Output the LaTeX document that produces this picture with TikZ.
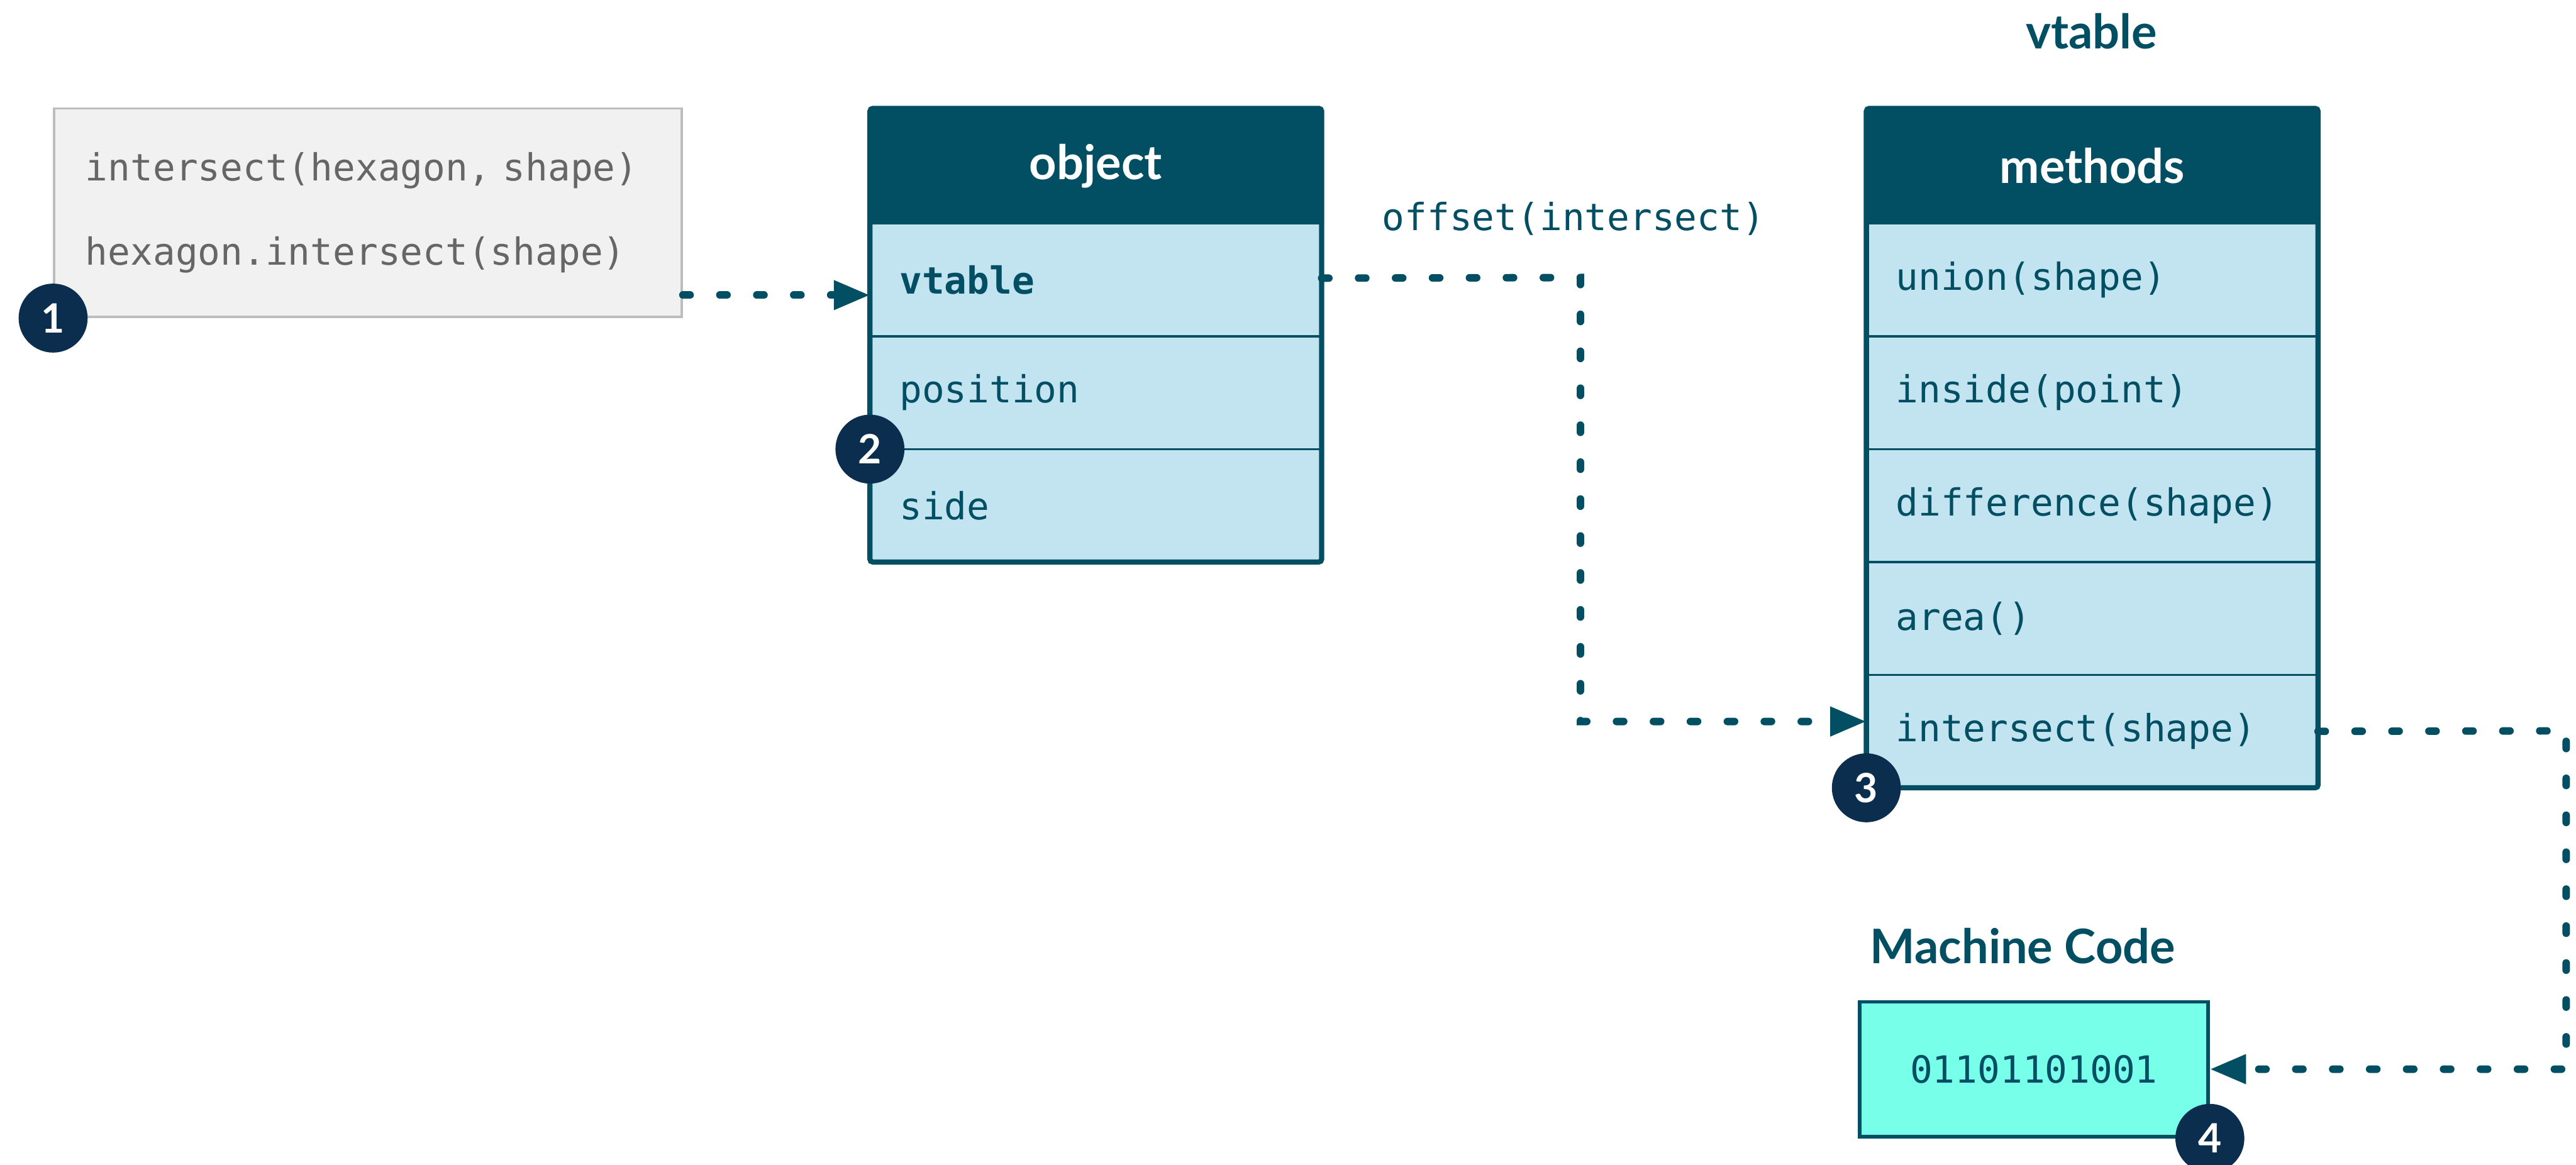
\documentclass[tikz,border=0pt]{standalone}
\usepackage{fontspec}
\setmainfont{Lato}
\newfontfamily\codefont{DejaVu Sans Mono}
\usetikzlibrary{positioning,arrows.meta,calc}
\definecolor{vtteal}{HTML}{024E63}
\definecolor{rowblue}{HTML}{C2E4F0}
\definecolor{badgenavy}{HTML}{0B2E4F}
\definecolor{codegreen}{HTML}{77FFE9}
\definecolor{callgrey}{HTML}{F1F1F1}
\definecolor{callborder}{HTML}{BDBDBD}
\definecolor{calltext}{HTML}{666666}
\tikzset{
  head/.style={fill=vtteal,draw=vtteal,text=white,font=\bfseries\fontsize{16.5}{19}\selectfont,
    minimum width=5.5cm,minimum height=1.4cm,inner sep=0pt,outer sep=0pt},
  slot/.style={fill=rowblue,draw=vtteal,line width=0.8pt,text=vtteal,
    font=\codefont\fontsize{12.95}{15}\selectfont,minimum width=5.5cm,text width=4.78cm,
    inner xsep=0.36cm,inner ysep=0pt,outer sep=0pt,align=left,minimum height=1.375cm},
  frame/.style={draw=vtteal,line width=1.8pt,rounded corners=1pt},
  call/.style={fill=callgrey,draw=callborder,line width=0.8pt,text=calltext,
    font=\codefont\fontsize{12.95}{29}\selectfont,text width=6.88cm,inner xsep=0.38cm,
    align=left,minimum height=2.54cm},
  mcbox/.style={fill=codegreen,draw=vtteal,line width=1.3pt,text=vtteal,
    font=\codefont\fontsize{12.95}{15}\selectfont,minimum width=4.24cm,minimum height=1.64cm},
  codelabel/.style={text=vtteal,font=\codefont\fontsize{12.95}{15}\selectfont,inner sep=0pt},
  title/.style={text=vtteal,font=\bfseries\fontsize{16.5}{19}\selectfont,inner sep=0pt},
  flow/.style={draw=vtteal,line width=2.6pt,line cap=round,dash pattern=on 2.5pt off 10.3pt,
    -{Triangle[length=0.44cm,width=0.34cm]}},
  badge/.style={circle,fill=badgenavy,text=white,font=\bfseries\fontsize{14}{16}\selectfont,
    minimum size=0.84cm,inner sep=0pt}
}
\begin{document}
\begin{tikzpicture}[x=0.02cm,y=-0.02cm]
  \useasboundingbox (0,0) rectangle (1568,709);
  % call site
  \node[call] (call) at (224,129.5) {intersect(hexagon, shape)\\hexagon.intersect(shape)};
  % object
  \node[head] (obj-head) at (667,101) {object};
  \node[slot,below=0pt of obj-head] (obj-vtable) {\textbf{vtable}};
  \node[slot,below=0pt of obj-vtable] (obj-position) {position};
  \node[slot,below=0pt of obj-position] (obj-side) {side};
  \draw[frame] (obj-head.north west) rectangle (obj-side.south east);
  \node[codelabel,anchor=west] (offset) at (841,133) {offset(intersect)};
  % vtable
  \node[title] (vt-title) at (1273,19) {vtable};
  \node[head] (vt-head) at (1273.5,101) {methods};
  \node[slot,below=0pt of vt-head] (vt-union) {union(shape)};
  \node[slot,below=0pt of vt-union] (vt-inside) {inside(point)};
  \node[slot,below=0pt of vt-inside] (vt-difference) {difference(shape)};
  \node[slot,below=0pt of vt-difference] (vt-area) {area()};
  \node[slot,below=0pt of vt-area] (vt-intersect) {intersect(shape)};
  \draw[frame] (vt-head.north west) rectangle (vt-intersect.south east);
  % machine code
  \node[title,anchor=west] (mc-title) at (1138,576) {Machine Code};
  \node[mcbox] (code) at (1238,651) {01101101001};
  % dispatch path
  \coordinate (bend1) at (962,169);
  \coordinate (bend2) at (1562,445);
  \draw[flow] ([yshift=0.28cm]call.south east) -- ([yshift=0.28cm]call.south east -| obj-vtable.west);
  \draw[flow] ([yshift=0.02cm]obj-vtable.east) -- (bend1) |- ([yshift=0.12cm]vt-intersect.west);
  \draw[flow] (vt-intersect.east) -- (bend2) |- (code.east);
  % steps
  \node[badge] (b1) at (call.south west) {1};
  \node[badge] (b2) at (obj-position.south west) {2};
  \node[badge] (b3) at (vt-intersect.south west) {3};
  \node[badge] (b4) at (code.south east) {4};
\end{tikzpicture}
\end{document}
